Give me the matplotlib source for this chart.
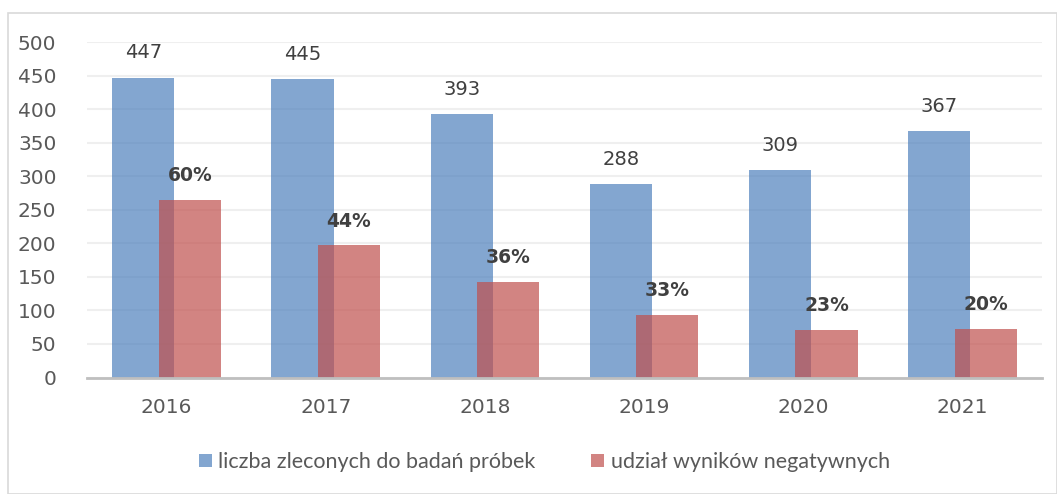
import matplotlib.pyplot as plt
import matplotlib.patches as mpatches
import numpy as np

# ---------------------------------------------------------------------------
# data
# ---------------------------------------------------------------------------
years = ["2016", "2017", "2018", "2019", "2020", "2021"]
ordered = [447, 445, 393, 288, 309, 367]          # liczba zleconych do badań próbek
negative = [265, 197, 143, 93, 71, 73]            # bar height of the red series
negative_share = ["60%", "44%", "36%", "33%", "23%", "20%"]

label_blue = "liczba zleconych do badań próbek"
label_red = "udział wyników negatywnych"

BLUE = "#4F81BD"
RED = "#C0504D"
W, H = 1057, 494

fig = plt.figure(figsize=(W / 100, H / 100), dpi=100)
fig.patch.set_facecolor("white")

# outer chart border
fig.patches.append(mpatches.Rectangle(
    (8 / W, 0), (W - 8.5) / W, (H - 13) / H, transform=fig.transFigure,
    fill=False, edgecolor="#d9d9d9", linewidth=1.2))

ax = fig.add_axes([87 / W, 1 - 377.5 / H, (1042 - 87) / W, (377.5 - 42.3) / H])

x = np.arange(len(years))
bw = 0.39
off = 0.146
ax.bar(x - off, ordered, width=bw, color=BLUE, alpha=0.7, zorder=2, label=label_blue)
ax.bar(x + off, negative, width=bw, color=RED, alpha=0.7, zorder=3, label=label_red)

for xi, v in zip(x, ordered):
    ax.annotate(str(v), (xi - off, v), xytext=(0, 18), textcoords="offset points",
                ha="center", va="center", fontsize=14, color="#404040")
for xi, v, s in zip(x, negative, negative_share):
    ax.annotate(s, (xi + off, v), xytext=(0, 17.5), textcoords="offset points",
                ha="center", va="center", fontsize=13.5, fontweight="bold",
                color="#404040")

ax.set_xlim(-0.5, len(years) - 0.5)
ax.set_ylim(0, 500)
ax.set_yticks(range(0, 501, 50))
ax.set_xticks(x)
ax.set_xticklabels(years)
ax.tick_params(axis="both", length=0, labelsize=14.5, colors="#595959")
ax.tick_params(axis="y", pad=22)
ax.tick_params(axis="x", pad=15)
ax.yaxis.grid(True, color="#efefef", linewidth=1.5, zorder=0)
ax.set_axisbelow(True)
for side in ("top", "right", "left"):
    ax.spines[side].set_visible(False)
ax.spines["bottom"].set_color("#bfbfbf")
ax.spines["bottom"].set_linewidth(2)
ax.spines["bottom"].set_zorder(4)

fig.legend(loc="center", bbox_to_anchor=(0.515, 1 - 462 / H), ncol=2,
           frameon=False, handlelength=0.6, handleheight=0.6,
           handletextpad=0.3, columnspacing=2.6,
           prop={"family": "Lato", "size": 15.5}, labelcolor="#595959")

fig.savefig("out.png", dpi=100, facecolor="white")
